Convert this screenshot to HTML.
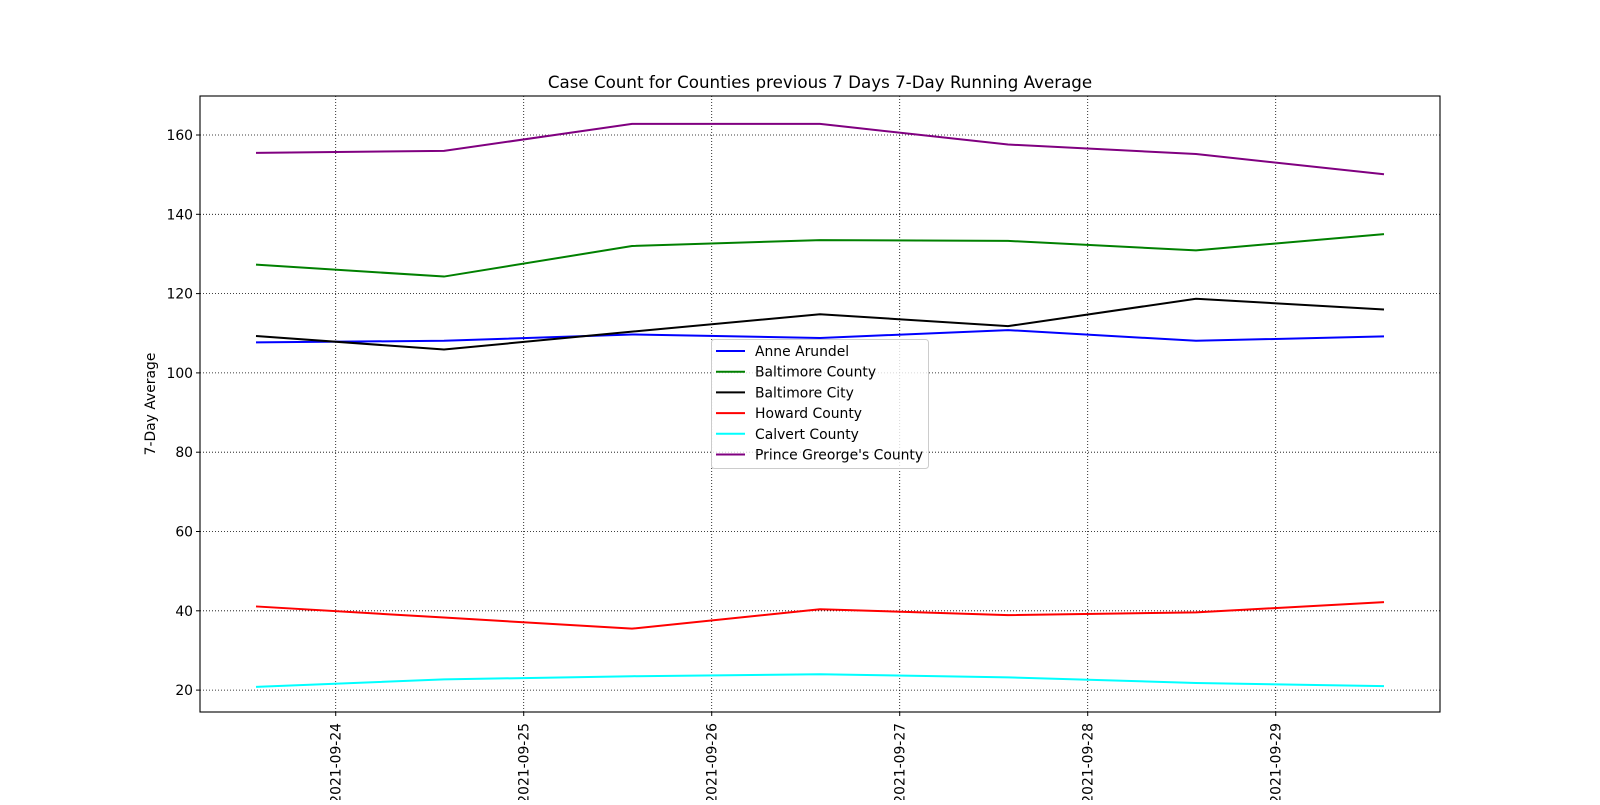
<!DOCTYPE html>
<html><head><meta charset="utf-8"><style>
body{margin:0;background:#fff;}
svg{font-family:"DejaVu Sans","Liberation Sans",sans-serif;}
</style></head><body>
<svg id="chart" width="1600" height="800" viewBox="0 0 1600 800">
<rect width="1600" height="800" fill="#fff"/>
<g id="grid"></g>
<g id="series"></g>
<rect x="200" y="96" width="1240" height="616" fill="none" stroke="#000" stroke-width="1.1"/>
<g id="axes"></g>
<text x="820" y="88" text-anchor="middle" font-size="16.7">Case Count for Counties previous 7 Days 7-Day Running Average</text>
<text transform="translate(155,404) rotate(-90)" text-anchor="middle" font-size="13.9">7-Day Average</text>
<g id="legend"></g>
</svg>
<script>
const dayOffsets=[0,1,2,3,4,5,6];
const tickLabels=["2021-09-24","2021-09-25","2021-09-26","2021-09-27","2021-09-28","2021-09-29"];
const yTicks=[20,40,60,80,100,120,140,160];
const seriesNames=["Anne Arundel","Baltimore County","Baltimore City","Howard County","Calvert County","Prince Greorge's County"];
const seriesColors=["#0000ff","#008000","#000000","#ff0000","#00ffff","#800080"];
const anneArundel=[107.7,108.1,109.7,108.8,110.8,108.1,109.2];
const baltimoreCounty=[127.3,124.3,132,133.5,133.3,130.9,135];
const baltimoreCity=[109.3,105.9,110.4,114.8,111.8,118.7,116];
const howardCounty=[41.1,38.3,35.5,40.4,38.9,39.6,42.2];
const calvertCounty=[20.8,22.7,23.5,24,23.2,21.8,21];
const princeGeorges=[155.5,156,162.8,162.8,157.6,155.2,150.1];
const allSeries=[anneArundel,baltimoreCounty,baltimoreCity,howardCounty,calvertCounty,princeGeorges];
const NS="http://www.w3.org/2000/svg";
const X0=200,X1=1440,Y0=96,Y1=712;
const firstTickDay=0.424;
const pxPerDay=188;
function xDay(d){return 256+d*pxPerDay;}
function xTick(i){return xDay(firstTickDay+i);}
function y(v){return 135+(160-v)*3.965;}
function mk(tag,attrs,parent){const e=document.createElementNS(NS,tag);for(const k in attrs)e.setAttribute(k,attrs[k]);parent.appendChild(e);return e;}
const grid=document.getElementById('grid'),axes=document.getElementById('axes'),ser=document.getElementById('series'),leg=document.getElementById('legend');
yTicks.forEach(v=>{
 const l=mk('line',{x1:X0,x2:X1,y1:y(v),y2:y(v),stroke:'#000','stroke-width':0.8,'stroke-dasharray':'1,2'},grid);
 
 
 mk('line',{x1:X0-4,x2:X0,y1:y(v),y2:y(v),stroke:'#000'},axes);
 const t=mk('text',{x:X0-7,y:y(v)+5,'text-anchor':'end','font-size':13.9},axes);t.textContent=v;
 
 
});
tickLabels.forEach((s,i)=>{
 const x=xTick(i);
 const l=mk('line',{x1:x,x2:x,y1:Y0,y2:Y1,stroke:'#000','stroke-width':0.8,'stroke-dasharray':'1,2'},grid);
 
 
 mk('line',{x1:x,x2:x,y1:Y1,y2:Y1+4,stroke:'#000'},axes);
 const t=mk('text',{transform:`translate(${x+5},${Y1+11}) rotate(-90)`,'text-anchor':'end','font-size':13.9},axes);t.textContent=s;
 
 
});
allSeries.forEach((vals,si)=>{
 const pts=vals.map((v,i)=>xDay(dayOffsets[i])+','+y(v)).join(' ');
 const p=mk('polyline',{points:pts,fill:'none',stroke:seriesColors[si],'stroke-width':2},ser);
 
 
});
const box=mk('rect',{x:711.5,y:339.5,width:217,height:129,fill:'#fff','fill-opacity':0.8,stroke:'#ccc',rx:3},leg);


seriesNames.forEach((n,i)=>{
 const yy=351+i*20.7;
 mk('line',{x1:716,x2:745,y1:yy,y2:yy,stroke:seriesColors[i],'stroke-width':2},leg);
 const t=mk('text',{x:755,y:yy+5,'font-size':13.9},leg);t.textContent=n;
 
 
});
</script>
</body></html>
